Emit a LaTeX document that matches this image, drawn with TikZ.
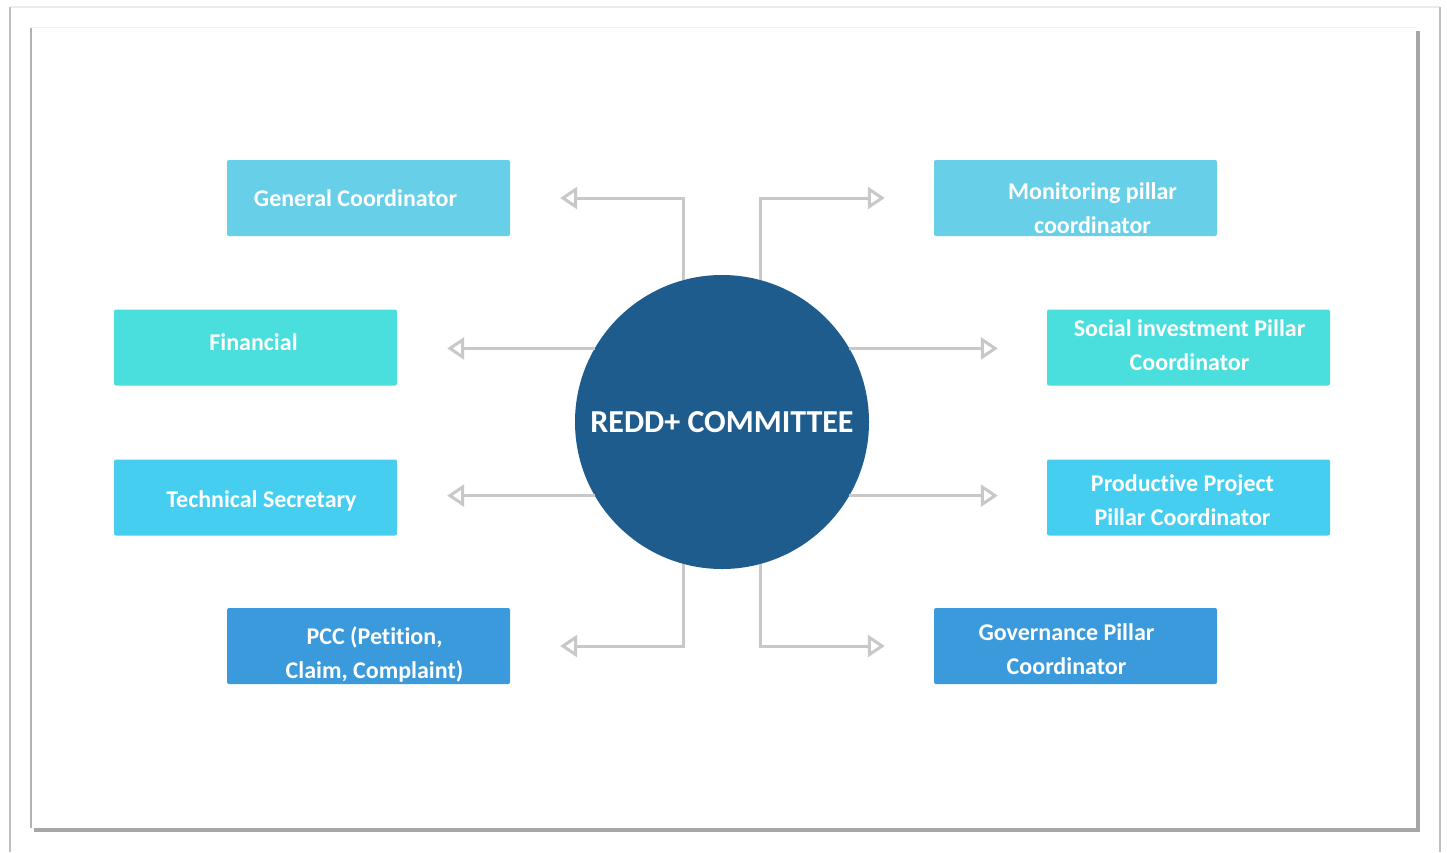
\documentclass[tikz,border=0pt]{standalone}
\usepackage{fontspec}
\setmainfont{Carlito}[Ligatures=NoCommon]
\usetikzlibrary{arrows.meta}

\definecolor{skyblue}{HTML}{67CFE8}
\definecolor{turq}{HTML}{4ADEDC}
\definecolor{brightblue}{HTML}{45CEF0}
\definecolor{midblue}{HTML}{3A9ADB}
\definecolor{navy}{HTML}{1F5C8E}
\definecolor{linkgray}{HTML}{C8C8C8}

\tikzset{
  rolebox/.style={fill=#1, rounded corners=2pt, minimum width=283pt, minimum height=76pt,
    inner sep=0pt},
  roletext/.style={text=white, inner sep=0pt, align=center,
    font=\bfseries\fontsize{24}{34}\selectfont},
  link/.style={draw=linkgray, line width=3pt,
    -{Triangle[open, length=17pt, width=22pt, line width=3pt]}}
}

\begin{document}
\begin{tikzpicture}[x=1pt, y=-1pt]
    \useasboundingbox (0,0) rectangle (1447,852);
    % frame
    \draw[black!8, line width=1.5pt] (10,7) -- (1440,7);
    \draw[black!25, line width=2.5pt] (10,7) -- (10,852);
    \draw[black!25, line width=2pt] (1440,7) -- (1440,852);
    \fill[black!35] (34,31) rectangle (1420,832);
    \fill[white] (30,27) rectangle (1416,828);
    \draw[black!30, line width=2.5pt] (31,28) -- (31,828);
    \draw[black!6, line width=1pt] (31,27) -- (1416,27);
    % committee
    \node[circle, fill=navy, minimum size=294pt, inner sep=0pt, text=white,
      font=\bfseries\fontsize{32}{34}\selectfont] (comm) at (722,422) {REDD+ COMMITTEE};
    % left column
    \node[rolebox=skyblue, label={[roletext, xshift=-13pt]center:General Coordinator}]
      (gen) at (368.5,198) {};
    \node[rolebox=turq, label={[roletext, xshift=-2pt, yshift=5pt]center:Financial}]
      (fin) at (255.5,347.5) {};
    \node[rolebox=brightblue, label={[roletext, xshift=6pt, yshift=-3pt]center:Technical Secretary}]
      (tech) at (255.5,497.5) {};
    \node[rolebox=midblue, label={[roletext, xshift=6pt, yshift=-8pt]center:{PCC (Petition,\\Claim, Complaint)}}]
      (pcc) at (368.5,646) {};
    % right column
    \node[rolebox=skyblue, label={[roletext, xshift=17pt, yshift=-10pt]center:{Monitoring pillar\\coordinator}}]
      (mon) at (1075.5,198) {};
    \node[rolebox=turq, label={[roletext, xshift=1pt, yshift=2pt]center:{Social investment Pillar\\Coordinator}}]
      (soc) at (1188.5,347.5) {};
    \node[rolebox=brightblue, label={[roletext, xshift=-6pt, yshift=-3pt]center:{Productive Project\\Pillar Coordinator}}]
      (prod) at (1188.5,497.5) {};
    \node[rolebox=midblue, label={[roletext, xshift=-9pt, yshift=-3pt]center:{Governance Pillar\\Coordinator}}]
      (gov) at (1075.5,646) {};
    % links
    \draw[link, shorten >=50pt] (comm.105) |- (gen.east);
    \draw[link, shorten >=49pt] (comm.75) |- (mon.west);
    \draw[link, shorten >=50pt] (comm.150) -- (comm.150 -| fin.east);
    \draw[link, shorten >=50pt] (comm.210) -- (comm.210 -| tech.east);
    \draw[link, shorten >=49pt] (comm.30) -- (comm.30 -| soc.west);
    \draw[link, shorten >=49pt] (comm.330) -- (comm.330 -| prod.west);
    \draw[link, shorten >=50pt] (comm.255) |- (pcc.east);
    \draw[link, shorten >=49pt] (comm.285) |- (gov.west);
\end{tikzpicture}
\end{document}
